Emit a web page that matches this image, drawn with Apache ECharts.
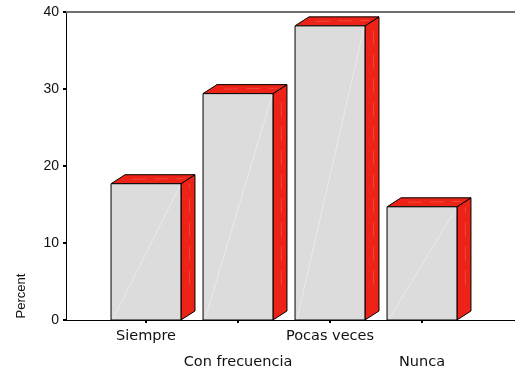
<!DOCTYPE html>
<html>
<head>
<meta charset="utf-8">
<script src="https://cdn.jsdelivr.net/npm/echarts@6/dist/echarts.min.js"></script>
<style>html,body{margin:0;padding:0;background:#fff}#c{width:515px;height:373px}</style>
</head>
<body>
<div id="c"></div>
<script>
const categories = ['Siempre', 'Con frecuencia', 'Pocas veces', 'Nunca'];
const percentValues = [17.7, 29.4, 38.2, 14.7];
const yTicks = [0, 10, 20, 30, 40];
const yAxisTitle = 'Percent';

const DEPTH_X = 14, DEPTH_Y = 9, FACE_RATIO = 0.76;
const chart = echarts.init(document.getElementById('c'), null, {renderer: 'canvas'});

function renderBar(params, api) {
  const i = api.value(0);
  const v = api.value(1);
  const top = api.coord([i, v]);
  const base = api.coord([i, 0]);
  const bw = api.size([1, 0])[0] * FACE_RATIO;
  const x0 = top[0] - bw / 2, x1 = x0 + bw;
  const ty = top[1], by = base[1];
  const stroke = {stroke: '#000', lineWidth: 1};
  return {
    type: 'group',
    children: [
      {type: 'polygon', shape: {points: [[x1, ty], [x1 + DEPTH_X, ty - DEPTH_Y], [x1 + DEPTH_X, by - DEPTH_Y], [x1, by]]},
        style: Object.assign({fill: '#ec2316'}, stroke)},
      {type: 'polygon', shape: {points: [[x0, ty], [x0 + DEPTH_X, ty - DEPTH_Y], [x1 + DEPTH_X, ty - DEPTH_Y], [x1, ty]]},
        style: Object.assign({fill: '#ec2316'}, stroke)},
      {type: 'rect', shape: {x: x0, y: ty, width: bw, height: by - ty},
        style: Object.assign({fill: '#dcdcdc'}, stroke)},
      {type: 'line', shape: {x1: x0 + 2, y1: by - 1, x2: x1 - 1, y2: ty + 2},
        style: {stroke: '#f0f0f0', lineWidth: 1, opacity: 0.7}},
      {type: 'line', shape: {x1: x1 + DEPTH_X * 0.6, y1: by - DEPTH_Y * 0.6 - 30, x2: x1 + DEPTH_X * 0.6, y2: ty - DEPTH_Y * 0.6 + 6},
        style: {stroke: '#f58a84', lineWidth: 1, opacity: 0.35, lineDash: [14, 10]}},
      {type: 'line', shape: {x1: x0 + bw * 0.3, y1: ty - DEPTH_Y * 0.5, x2: x1 + DEPTH_X * 0.3, y2: ty - DEPTH_Y * 0.6},
        style: {stroke: '#f58a84', lineWidth: 1, opacity: 0.35, lineDash: [14, 8]}}
    ]
  };
}

chart.setOption({
  animation: false,
  grid: [
    {left: 66, right: 0, top: 12, bottom: 53, containLabel: false, outerBoundsMode: 'none'},
    {left: 100, right: 47, top: 12, bottom: 53, containLabel: false, outerBoundsMode: 'none'}
  ],
  xAxis: [
    {type: 'value', gridIndex: 0, position: 'bottom', min: 0, max: 1,
      axisLine: {show: true, lineStyle: {color: '#000', width: 1}},
      axisTick: {show: false}, axisLabel: {show: false}, splitLine: {show: false}},
    {type: 'value', gridIndex: 0, position: 'top', min: 0, max: 1,
      axisLine: {show: true, lineStyle: {color: '#707070', width: 2}},
      axisTick: {show: false}, axisLabel: {show: false}, splitLine: {show: false}},
    {type: 'category', gridIndex: 1, data: categories, position: 'bottom',
      axisLine: {show: false},
      axisTick: {show: true, alignWithLabel: true, length: 3, lineStyle: {color: '#000', width: 2}},
      axisLabel: {
        margin: 3, interval: 0, color: '#111',
        fontFamily: 'DejaVu Sans', fontSize: 14.5, lineHeight: 26,
        formatter: (v, idx) => (idx % 2 === 1 ? '\n' + v : v)
      }}
  ],
  yAxis: [
    {type: 'value', gridIndex: 0, min: yTicks[0], max: yTicks[yTicks.length - 1], interval: 10,
      axisLine: {show: true, lineStyle: {color: '#000', width: 1}},
      axisTick: {show: true, length: 3, lineStyle: {color: '#000', width: 2}},
      axisLabel: {margin: 7, color: '#111', fontFamily: 'Liberation Sans', fontSize: 14},
      splitLine: {show: false}},
    {type: 'value', gridIndex: 1, min: yTicks[0], max: yTicks[yTicks.length - 1], show: false}
  ],
  graphic: [
    {type: 'text', x: 21, y: 296, rotation: Math.PI / 2,
      style: {text: yAxisTitle, font: '13px "Liberation Sans"', fill: '#111', align: 'center', verticalAlign: 'middle'}}
  ],
  series: [{
    type: 'custom',
    xAxisIndex: 2, yAxisIndex: 1,
    renderItem: renderBar,
    encode: {x: 0, y: 1},
    data: percentValues.map((v, i) => [i, v])
  }]
});
</script>
</body>
</html>
